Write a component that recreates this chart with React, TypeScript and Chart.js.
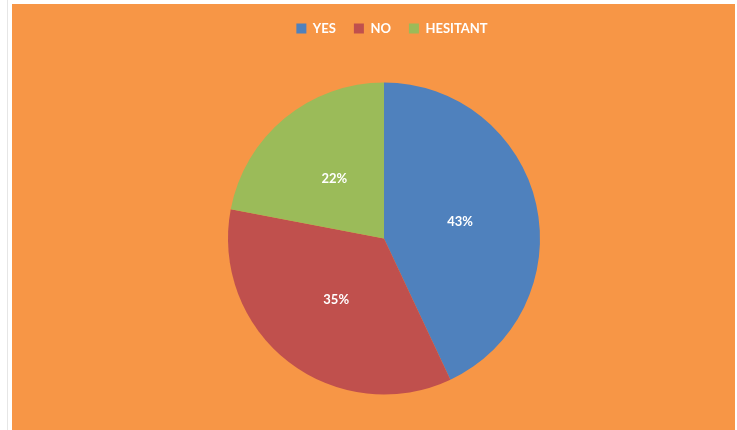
import React, { useEffect, useRef } from "react";
import { Chart, registerables } from "chart.js";

Chart.register(...registerables);

const categories = ["YES", "NO", "HESITANT"];
const values = [43, 35, 22];
const colors = ["#4F81BD", "#C0504D", "#9BBB59"];
const labelTexts = ["43%", "35%", "22%"];

const FONT = "Lato, 'Open Sans', sans-serif";

const pieLabels = {
  id: "pieLabels",
  afterDatasetsDraw(chart: any) {
    const ctx = chart.ctx;
    const meta = chart.getDatasetMeta(0);
    ctx.save();
    ctx.fillStyle = "#FFFFFF";
    ctx.font = `bold 13px ${FONT}`;
    ctx.textAlign = "center";
    ctx.textBaseline = "middle";
    meta.data.forEach((arc: any, i: number) => {
      const p = arc.tooltipPosition();
      ctx.fillText(labelTexts[i], p.x, p.y);
    });
    ctx.restore();
  },
};

const legendShift = {
  id: "legendShift",
  afterLayout(chart: any) {
    if (chart.legend) {
      chart.legend.left += 8;
      chart.legend.right += 8;
    }
  },
};

export default function App() {
  const ref = useRef<HTMLCanvasElement | null>(null);
  useEffect(() => {
    if (!ref.current) return;
    const chart = new Chart(ref.current, {
      type: "pie",
      data: {
        labels: categories,
        datasets: [
          {
            data: values,
            backgroundColor: colors,
            borderWidth: 0,
            radius: 156,
          } as any,
        ],
      },
      options: {
        animation: false,
        responsive: false,
        maintainAspectRatio: false,
        layout: { padding: { left: 31, right: 0, top: 4, bottom: 8 } },
        plugins: {
          legend: {
            display: true,
            position: "top",
            labels: {
              boxWidth: 10,
              boxHeight: 10,
              padding: 18,
              color: "#FFFFFF",
              font: { family: FONT, size: 13, weight: "bold" },
            },
          },
          tooltip: { enabled: false },
        },
      },
      plugins: [pieLabels, legendShift],
    });
    return () => chart.destroy();
  }, []);

  return (
    <div
      style={{
        position: "fixed",
        left: 0,
        top: 0,
        width: 737,
        height: 430,
        background: "#FFFFFF",
        overflow: "hidden",
      }}
    >
      <div
        style={{
          position: "absolute",
          left: 7,
          top: 0,
          width: 1,
          height: 430,
          background: "#E6E6E6",
        }}
      />
      <div
        style={{
          position: "absolute",
          left: 12,
          top: 4,
          width: 723,
          height: 426,
          background: "#F79646",
        }}
      />
      <canvas
        ref={ref}
        width={737}
        height={440}
        style={{ position: "absolute", left: 0, top: 0, width: 737, height: 440 }}
      />
    </div>
  );
}
